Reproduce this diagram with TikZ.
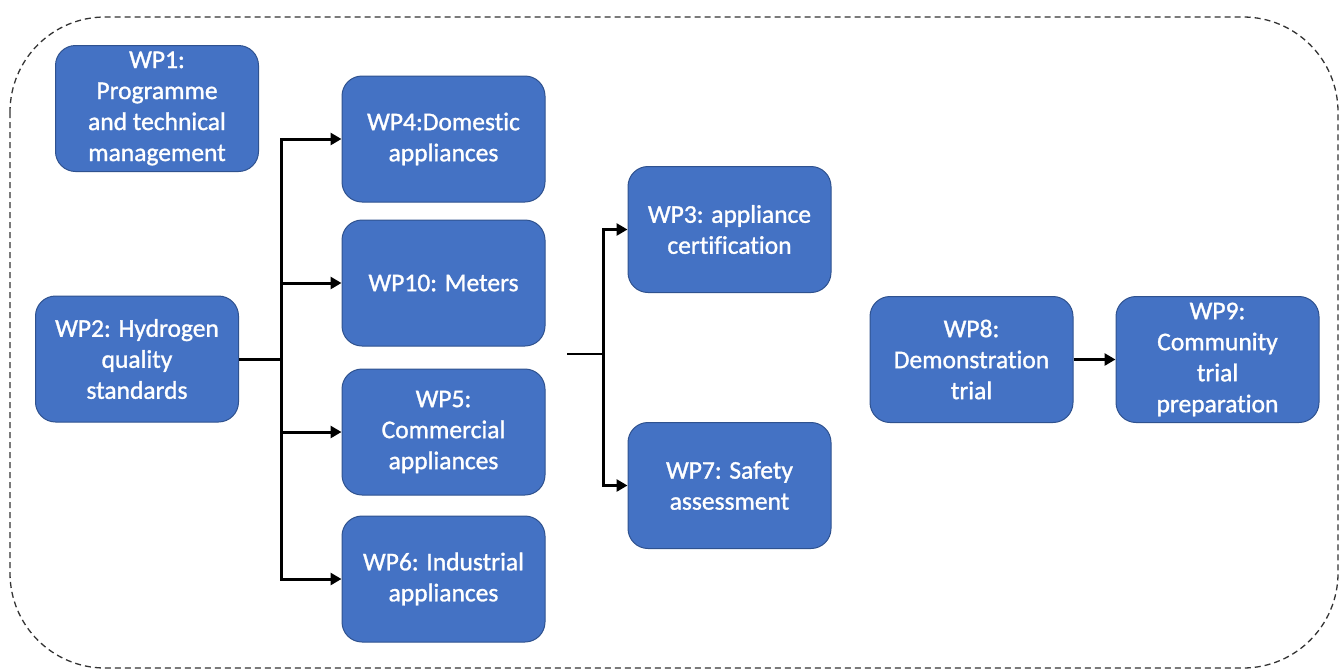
\documentclass[tikz,border=0pt]{standalone}
\usepackage{fontspec}
\setmainfont{Carlito}[Ligatures={NoCommon}]
\newfontfamily\wpfont{Carlito}[BoldFont={Carlito}, BoldFeatures={FakeBold=1.2}, Ligatures={NoCommon}]
\usetikzlibrary{arrows.meta}
\definecolor{wpfill}{HTML}{4472C4}
\definecolor{wpedge}{HTML}{2F528F}
\tikzset{
  wp/.style={draw=wpedge, line width=1pt, fill=wpfill, rounded corners=20pt,
    minimum width=203pt, minimum height=126pt, align=center, text=white,
    inner sep=2pt, font=\wpfont\bfseries\fontsize{25.5}{31}\selectfont},
  link/.style={line width=3pt, line cap=butt},
  linkarrow/.style={link, -{Triangle[length=11pt,width=12pt]}},
}
\begin{document}
\begin{tikzpicture}[x=1pt,y=-1pt]
\useasboundingbox (0,0) rectangle (1343,670);
% dashed frame around the whole plan
\draw[dashed, dash pattern=on 6pt off 4pt, line width=1.3pt, draw=black!80,
  rounded corners=95pt] (10,17) rectangle (1338,668);

% work packages
\node[wp] (wp1) at (157,108.5) {WP1:\\Programme\\and technical\\management};
\node[wp] (wp2) at (137,359) {WP2: Hydrogen\\quality\\standards};
\node[wp] (wp4) at (443.5,139) {WP4:Domestic\\appliances};
\node[wp] (wp10) at (443.5,283) {WP10: Meters};
\node[wp] (wp5) at (443.5,432) {WP5:\\Commercial\\appliances};
\node[wp] (wp6) at (443.5,579) {WP6: Industrial\\appliances};
\node[wp] (wp3) at (729.5,229.5) {WP3: appliance\\certification};
\node[wp] (wp7) at (729.5,485.5) {WP7: Safety\\assessment};
\node[wp] (wp8) at (971.5,359.5) {WP8:\\Demonstration\\trial};
\node[wp] (wp9) at (1217.5,359.5) {WP9:\\Community\\trial\\preparation};

% WP2 fans out to the appliance packages
\coordinate (j1) at (281,359);
\draw[link] (wp2.east) -- (j1);
\draw[linkarrow] (j1) |- (wp4.west);
\draw[linkarrow] (j1) |- (wp10.west);
\draw[linkarrow] (j1) |- (wp5.west);
\draw[linkarrow] (j1) |- (wp6.west);

% appliance packages feed certification and safety
\coordinate (s2) at (567,354);
\coordinate (j2) at (603,354);
\draw[line width=2pt] (s2) -- (j2);
\draw[linkarrow] (j2) |- (wp3.west);
\draw[linkarrow] (j2) |- (wp7.west);

% demonstration leads to community trial
\draw[linkarrow] (wp8.east) -- (wp9.west);
\end{tikzpicture}
\end{document}
